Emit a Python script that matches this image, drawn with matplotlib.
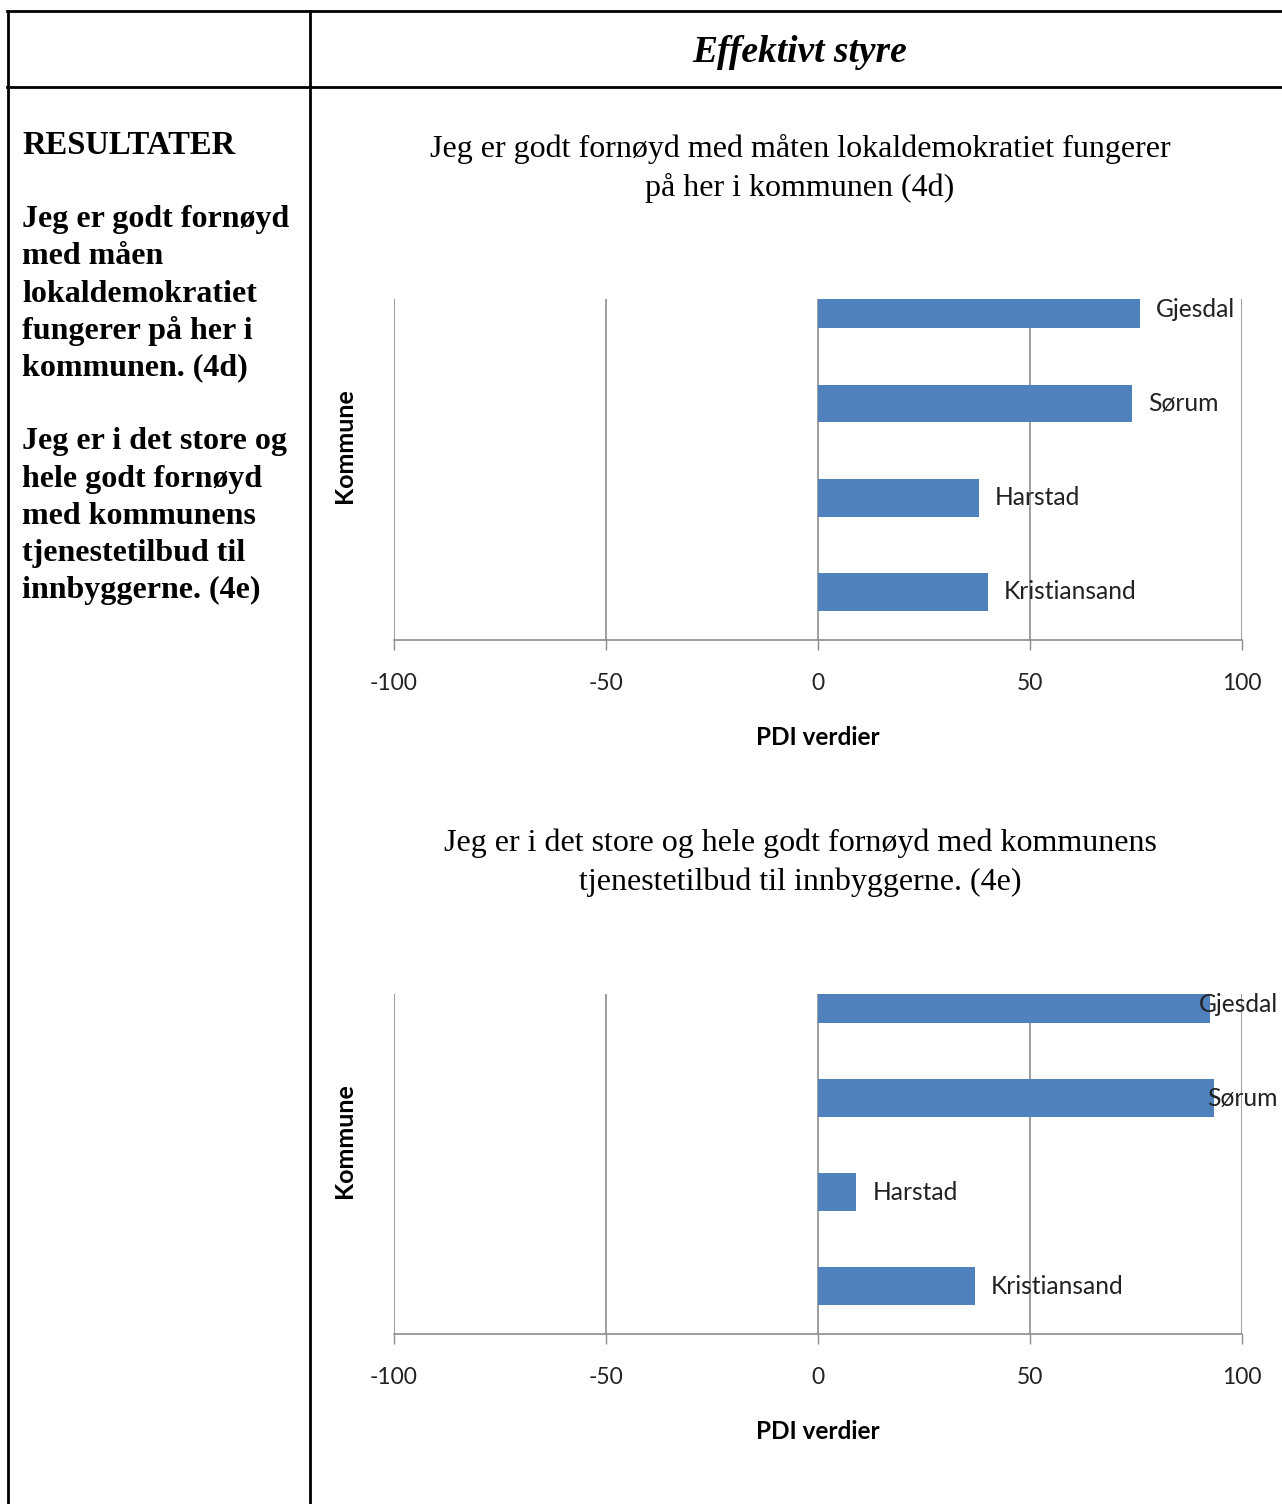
import matplotlib
matplotlib.use("Agg")
import matplotlib.pyplot as plt
from matplotlib.lines import Line2D

# data
kommuner = ["Kristiansand", "Harstad", "Sørum", "Gjesdal"]
pdi_4d = [40, 38, 74, 76]
pdi_4e = [37, 9, 93.5, 92.5]
xticks = [-100, -50, 0, 50, 100]

title_4d = ["Jeg er godt fornøyd med måten lokaldemokratiet fungerer",
            "på her i kommunen (4d)"]
title_4e = ["Jeg er i det store og hele godt fornøyd med kommunens",
            "tjenestetilbud til innbyggerne. (4e)"]
left_text = ["Jeg er godt fornøyd", "med måen", "lokaldemokratiet",
             "fungerer på her i", "kommunen. (4d)", "",
             "Jeg er i det store og", "hele godt fornøyd", "med kommunens",
             "tjenestetilbud til", "innbyggerne. (4e)"]

W, H = 1282, 1504
BLUE = "#4F81BD"
GRID = "#8C8C8C"
SERIF = "Liberation Serif"
SANS = "Lato"


def fx(x):
    return x / W


def fy(y):
    return 1 - y / H


fig = plt.figure(figsize=(W / 100, H / 100), dpi=100)

# table frame
lw = 2.0
for (x0, y0, x1, y1) in [(7, 11, W, 11), (7, 87, W, 87), (8, 11, 8, H), (310, 11, 310, H)]:
    fig.add_artist(Line2D([fx(x0), fx(x1)], [fy(y0), fy(y1)], color="black", lw=lw))

fig.text(fx(800), fy(52), "Effektivt styre", family=SERIF, style="italic",
         weight="bold", size=27, ha="center", va="center")
fig.text(fx(22), fy(146), "RESULTATER", family=SERIF, weight="bold", size=23.5,
         ha="left", va="center")
for i, line in enumerate(left_text):
    fig.text(fx(22), fy(220 + 37 * i), line, family=SERIF,
             weight="bold", size=23, ha="left", va="center")


def bar_chart(top, bottom, values, title, title_y):
    ax = fig.add_axes([fx(394), fy(bottom), fx(1242) - fx(394), (bottom - top) / H])
    pos = range(len(kommuner))
    ax.barh(pos, values, height=0.4, color=BLUE, zorder=3)
    ax.set_xlim(-100, 100)
    ax.set_ylim(-0.51, 3.11)
    ax.set_xticks(xticks)
    ax.set_xticklabels([str(t) for t in xticks], family=SANS, size=16.5, color="#222222")
    ax.set_yticks([])
    ax.tick_params(axis="x", length=7, width=1, color=GRID, pad=17)
    ax.grid(axis="x", color=GRID, lw=1.2, zorder=1)
    for s in ["top", "right", "left"]:
        ax.spines[s].set_visible(False)
    ax.spines["bottom"].set_color(GRID)
    ax.spines["bottom"].set_linewidth(1.2)
    ax.set_xlabel("PDI verdier", family=SANS, weight="bold", size=17.5, labelpad=23)
    ax.text(-0.058, 0.569, "Kommune", transform=ax.transAxes, rotation=90,
            family=SANS, weight="bold", size=18, ha="center", va="center")
    for p, v, name in zip(pos, values, kommuner):
        if v > 85:
            ax.text(108.5, p, name, ha="right", va="center", family=SANS, size=17.7,
                    color="#222222", clip_on=False, zorder=4)
        else:
            ax.text(v + 3.8, p, name, ha="left", va="center", family=SANS, size=17.7,
                    color="#222222", clip_on=False, zorder=4)
    for k, line in enumerate(title):
        fig.text(fx(800), fy(title_y + 39 * k), line, family=SERIF, size=23,
                 ha="center", va="center")
    return ax


bar_chart(299, 640, pdi_4d, title_4d, 149)
bar_chart(994, 1334, pdi_4e, title_4e, 843)

fig.savefig("out.png", dpi=100)
